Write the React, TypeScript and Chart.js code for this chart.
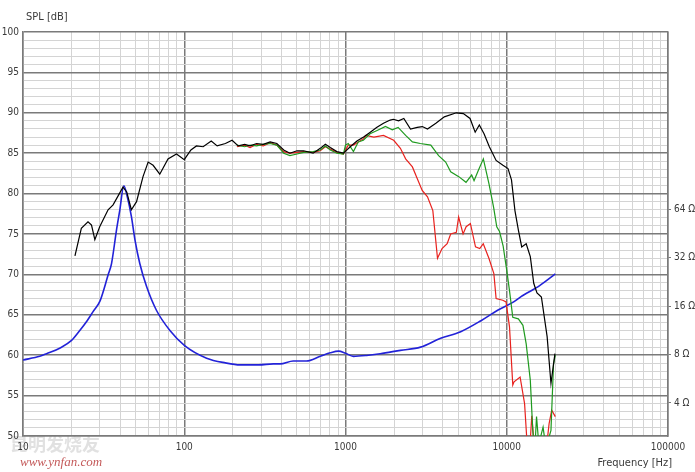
import React, { useEffect, useRef } from 'react';
import { Chart, registerables } from 'chart.js';

Chart.register(...registerables);

// ---- Data ----
const onAxisFreq = [21, 23, 25.3, 26.6, 27.9, 29.9, 33.7, 36.2, 41.7, 44, 47, 50.6, 55.5, 59.7, 64.1, 70.5, 79.3, 89.5, 100, 110, 119, 131, 147, 160, 180, 198, 216, 237, 256, 281, 309, 341, 375, 414, 452, 500, 550, 630, 697, 750, 805, 884, 971, 1070, 1177, 1295, 1424, 1567, 1720, 1893, 1980, 2134, 2300, 2530, 2785, 2995, 3225, 3635, 4100, 4870, 5380, 5920, 6370, 6760, 7230, 7800, 8590, 9470, 10180, 10700, 11240, 11800, 12380, 13200, 14000, 14700, 15400, 16400, 17800, 18800, 19900];
const onAxisDb = [72.3, 75.7, 76.5, 76.1, 74.3, 75.9, 78.0, 78.6, 80.8, 80.2, 78.0, 79.0, 82.1, 83.9, 83.5, 82.4, 84.3, 84.9, 84.2, 85.4, 85.9, 85.8, 86.5, 85.9, 86.2, 86.6, 85.9, 86.1, 85.9, 86.2, 86.1, 86.4, 86.2, 85.4, 85.0, 85.3, 85.3, 85.0, 85.6, 86.1, 85.7, 85.2, 85.0, 85.8, 86.5, 87.0, 87.6, 88.2, 88.7, 89.1, 89.2, 89.0, 89.3, 88.0, 88.2, 88.3, 88.0, 88.7, 89.5, 90.0, 89.9, 89.3, 87.6, 88.5, 87.4, 85.8, 84.1, 83.5, 83.1, 81.7, 77.9, 75.5, 73.4, 73.8, 72.2, 68.9, 67.7, 67.2, 62.3, 56.5, 60.2];

const offAxis60Freq = [212, 237, 256, 281, 309, 341, 375, 414, 452, 500, 550, 630, 697, 750, 805, 884, 971, 1040, 1120, 1200, 1295, 1340, 1500, 1720, 1990, 2190, 2360, 2600, 2780, 2990, 3225, 3480, 3720, 3970, 4270, 4490, 4870, 5030, 5360, 5600, 5950, 6400, 6800, 7150, 7750, 8320, 8590, 9450, 9900, 10400, 10900, 11100, 12100, 12900, 13300, 13800, 14300, 14900, 16000, 17500, 18300, 19000, 20000];
const offAxis60Db = [85.8, 86.0, 85.7, 86.1, 85.9, 86.3, 86.0, 85.2, 85.0, 85.1, 85.2, 85.1, 85.3, 85.8, 85.5, 85.1, 84.9, 86.0, 86.0, 86.4, 86.8, 87.2, 87.0, 87.2, 86.6, 85.6, 84.3, 83.3, 81.9, 80.4, 79.6, 77.9, 72.0, 73.2, 73.8, 75.0, 75.2, 77.1, 75.0, 75.9, 76.3, 73.4, 73.2, 73.8, 72.0, 70.1, 67.0, 66.8, 66.6, 63.5, 56.3, 56.7, 57.3, 54.0, 49.8, 47.5, 52.5, 48.0, 46.0, 48.0, 51.5, 53.2, 52.4];

const offAxis30Freq = [212, 237, 256, 281, 309, 341, 375, 414, 452, 500, 550, 630, 697, 750, 805, 884, 971, 1000, 1040, 1120, 1200, 1290, 1420, 1570, 1770, 1950, 2120, 2360, 2600, 2910, 3380, 3780, 4180, 4490, 5040, 5590, 6060, 6270, 6670, 7160, 7760, 8290, 8670, 9020, 9500, 10000, 10400, 10900, 11800, 12600, 13200, 14000, 14500, 14900, 15300, 15800, 16800, 17500, 18800, 19500, 20000];
const offAxis30Db = [86.0, 85.8, 86.0, 85.9, 86.1, 86.2, 86.0, 85.0, 84.7, 84.9, 85.1, 85.2, 85.4, 85.9, 85.4, 85.0, 84.9, 86.0, 86.2, 85.2, 86.4, 86.6, 87.4, 87.8, 88.3, 87.9, 88.2, 87.2, 86.4, 86.2, 86.0, 84.7, 83.9, 82.7, 82.1, 81.4, 82.3, 81.6, 82.9, 84.3, 81.2, 78.3, 75.9, 75.3, 73.5, 70.5, 68.0, 64.7, 64.5, 63.7, 61.4, 56.9, 50.7, 48.0, 52.4, 49.0, 51.1, 48.5, 50.7, 58.9, 60.0];

const impedanceFreq = [10, 12.7, 14, 17, 20, 22.5, 25, 27.2, 30, 33.7, 35.4, 38, 39.8, 42.2, 44.3, 47, 49.5, 53, 58.4, 67.2, 81.5, 100.5, 137.6, 180, 222, 290, 357, 393, 474, 572, 697, 805, 906, 1000, 1120, 1350, 1640, 2190, 2920, 3890, 5180, 6920, 8780, 11100, 12200, 16000, 20000];
const impedanceOhm = [7.4, 7.8, 8.1, 8.8, 9.8, 11.3, 13.0, 14.8, 17.2, 25.0, 29.5, 47.7, 63.0, 90.0, 77.0, 58.0, 41.3, 29.5, 21.2, 15.1, 11.3, 9.1, 7.6, 7.1, 6.9, 6.9, 7.0, 7.0, 7.3, 7.3, 7.8, 8.2, 8.4, 8.15, 7.8, 7.9, 8.1, 8.5, 8.9, 10.1, 11.1, 13.0, 15.1, 17.1, 18.3, 21.5, 25.4];

const xTickLabels = [10, 100, 1000, 10000, 100000];
const yTickLabels = [50, 55, 60, 65, 70, 75, 80, 85, 90, 95, 100];
const zTickLabels = [4, 8, 16, 32, 64];

const yTitle = 'SPL [dB]';
const xTitle = 'Frequency [Hz]';
const watermarkCn = '昆明发烧友';
const watermarkUrl = 'www.ynfan.com';

// ---- Styling ----
const FONT = '"Liberation Sans Narrow", "Arial Narrow", "DejaVu Sans Condensed", "Liberation Sans", Arial, sans-serif';
const LABEL_COLOR = '#3a3a3a';
const MAJOR = '#7a7a7a';
const MINOR = '#d4d4d4';

const pts = (fs: number[], vs: number[]) => fs.map((f, i) => ({ x: f, y: vs[i] }));

const isDecade = (v: number) => {
  const l = Math.log10(v);
  return Math.abs(l - Math.round(l)) < 1e-9;
};

const textPlugin = {
  id: 'textPlugin',
  beforeDraw(chart: any) {
    const ctx = chart.ctx;
    ctx.save();
    ctx.fillStyle = '#ffffff';
    ctx.fillRect(0, 0, chart.width, chart.height);
    ctx.textBaseline = 'middle';
    ctx.textAlign = 'left';
    ctx.fillStyle = 'rgba(200,200,200,0.55)';
    ctx.font = 'bold 18px "Noto Sans CJK SC", sans-serif';
    ctx.fillText(watermarkCn, 10, 444);
    ctx.fillStyle = '#c45a5a';
    ctx.font = 'italic 13px "Liberation Serif", serif';
    ctx.fillText(watermarkUrl, 20, 463);
    ctx.restore();
  },
  afterDraw(chart: any) {
    const ctx = chart.ctx;
    ctx.save();
    ctx.fillStyle = LABEL_COLOR;
    ctx.textBaseline = 'middle';
    ctx.font = '11px ' + FONT;
    ctx.textAlign = 'left';
    ctx.fillText(yTitle, 26, 17);
    ctx.textAlign = 'right';
    ctx.fillText(xTitle, 672, 463);
    ctx.restore();
  },
};

export default function App() {
  const ref = useRef<HTMLCanvasElement | null>(null);

  useEffect(() => {
    if (!ref.current) return;
    const chart = new Chart(ref.current, {
      type: 'line',
      data: {
        datasets: [
          {
            label: 'On axis',
            data: pts(onAxisFreq, onAxisDb),
            borderColor: '#000000',
            borderWidth: 1.2,
            pointRadius: 0,
            yAxisID: 'y',
          },
          {
            label: '30°',
            data: pts(offAxis30Freq, offAxis30Db),
            borderColor: '#1f9a1f',
            borderWidth: 1.2,
            pointRadius: 0,
            yAxisID: 'y',
          },
          {
            label: '60°',
            data: pts(offAxis60Freq, offAxis60Db),
            borderColor: '#e8221e',
            borderWidth: 1.2,
            pointRadius: 0,
            yAxisID: 'y',
          },
          {
            label: 'Impedance',
            data: pts(impedanceFreq, impedanceOhm),
            borderColor: '#2222d8',
            borderWidth: 1.6,
            pointRadius: 0,
            cubicInterpolationMode: 'monotone',
            yAxisID: 'z',
          },
        ],
      },
      options: {
        responsive: false,
        animation: false,
        events: [],
        layout: { padding: { top: 32, left: 0, right: 0, bottom: 0 } },
        plugins: { legend: { display: false }, tooltip: { enabled: false }, title: { display: false } },
        scales: {
          x: {
            type: 'logarithmic',
            position: 'bottom',
            min: 10,
            max: 100000,
            bounds: 'data',
            afterBuildTicks: (scale: any) => {
              const t: any[] = [];
              for (let e = 1; e <= 4; e++) {
                for (let m = 1; m <= 9; m++) t.push({ value: m * Math.pow(10, e) });
              }
              t.push({ value: 100000 });
              scale.ticks = t;
            },
            afterFit: (scale: any) => { scale.height = 36; },
            ticks: {
              autoSkip: false,
              maxRotation: 0,
              padding: 5,
              color: LABEL_COLOR,
              font: { family: FONT, size: 10 },
              callback: (v: any) => {
                const n = Number(v);
                return xTickLabels.some((t) => Math.abs(t - n) < 1e-6) ? String(Math.round(n)) : '';
              },
            },
            grid: {
              drawTicks: false,
              color: (c: any) => (c.tick && isDecade(c.tick.value) ? MAJOR : MINOR),
              lineWidth: (c: any) => (c.tick && isDecade(c.tick.value) ? 1.5 : 1),
            },
            border: { display: true, color: MAJOR, width: 1.5 },
          },
          y: {
            type: 'linear',
            position: 'left',
            min: 50,
            max: 100,
            bounds: 'data',
            afterBuildTicks: (scale: any) => {
              const t: any[] = [];
              for (let v = 50; v <= 100; v++) t.push({ value: v });
              scale.ticks = t;
            },
            afterFit: (scale: any) => { scale.width = 23; },
            ticks: {
              autoSkip: false,
              padding: 4,
              color: LABEL_COLOR,
              font: { family: FONT, size: 10 },
              callback: (v: any) => (yTickLabels.includes(Number(v)) ? String(v) : ''),
            },
            grid: {
              drawTicks: false,
              color: (c: any) => (c.tick && c.tick.value % 5 === 0 ? MAJOR : MINOR),
              lineWidth: (c: any) => (c.tick && c.tick.value % 5 === 0 ? 1.5 : 1),
            },
            border: { display: true, color: MAJOR, width: 1.5 },
          },
          z: {
            type: 'logarithmic',
            position: 'right',
            min: 2.49,
            max: 815,
            bounds: 'data',
            afterBuildTicks: (scale: any) => {
              scale.ticks = zTickLabels.map((v) => ({ value: v }));
            },
            afterFit: (scale: any) => { scale.width = 27; },
            ticks: {
              autoSkip: false,
              padding: 3,
              color: LABEL_COLOR,
              font: { family: FONT, size: 10 },
              callback: (v: any) => `${Number(v)} Ω`,
            },
            grid: {
              drawOnChartArea: false,
              drawTicks: true,
              tickLength: 3,
              color: MAJOR,
            },
            border: { display: true, color: MAJOR, width: 1.5 },
          },
        },
      } as any,
      plugins: [textPlugin as any],
    });
    return () => chart.destroy();
  }, []);

  return (
    <div style={{ position: 'absolute', left: 0, top: 0, width: 695, height: 472, background: '#fff' }}>
      <canvas ref={ref} width={695} height={472} style={{ display: 'block', width: 695, height: 472 }} />
    </div>
  );
}
